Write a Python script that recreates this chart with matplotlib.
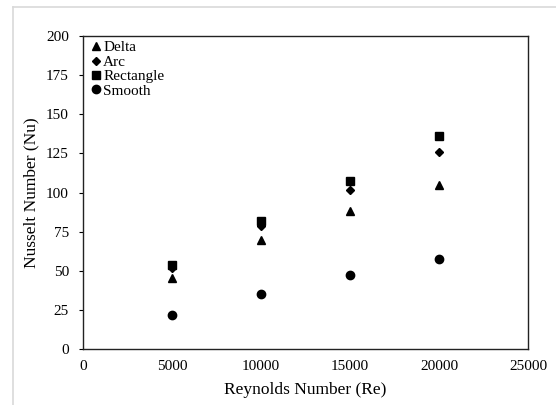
import matplotlib
matplotlib.use("Agg")
import matplotlib.pyplot as plt

re_vals = [5000, 10000, 15000, 20000]
nu_delta = [45.5, 70.0, 88.5, 105.0]
nu_arc = [51.5, 78.5, 101.5, 126.0]
nu_rect = [54.0, 82.0, 107.5, 136.0]
nu_smooth = [21.5, 35.5, 47.5, 57.5]

series = [
    ("Delta", nu_delta, "^"),
    ("Arc", nu_arc, "D"),
    ("Rectangle", nu_rect, "s"),
    ("Smooth", nu_smooth, "o"),
]

plt.rcParams["font.family"] = ["Liberation Serif", "DejaVu Serif"]

fig = plt.figure(figsize=(5.56, 4.05), dpi=100)
ax = fig.add_axes([0.149, 0.138, 0.801, 0.773])

sizes = {"^": 6, "D": 4.5, "s": 5.5, "o": 6}
for name, vals, mk in series:
    ax.plot(re_vals, vals, linestyle="none", marker=mk, color="black",
            markersize=sizes[mk], label=name)

ax.set_xlim(0, 25000)
ax.set_ylim(0, 200)
ax.set_xticks(range(0, 25001, 5000))
ax.set_yticks(range(0, 201, 25))
ax.tick_params(axis="x", length=0, pad=8, labelsize=11)
ax.tick_params(axis="y", direction="out", length=3, width=0.8, pad=7, labelsize=11)
for sp in ax.spines.values():
    sp.set_linewidth(1.0)
    sp.set_color("#222222")

ax.set_xlabel("Reynolds Number (Re)", fontsize=12.5, labelpad=6)
ax.set_ylabel("Nusselt Number (Nu)", fontsize=12.5, labelpad=5)

leg = ax.legend(loc="upper left", frameon=False, fontsize=11,
                handletextpad=-0.05, handlelength=1.0, labelspacing=0.05,
                borderaxespad=0.0, borderpad=0.1,
                bbox_to_anchor=(0.01, 0.99))

# light outer chart border (top and left edges)
fig.add_artist(plt.Line2D([0.023, 1.0], [0.983, 0.983], color="#d9d9d9",
                          linewidth=1.2, transform=fig.transFigure))
fig.add_artist(plt.Line2D([0.023, 0.023], [0.0, 0.983], color="#d9d9d9",
                          linewidth=1.2, transform=fig.transFigure))

fig.savefig("out.png", dpi=100)
